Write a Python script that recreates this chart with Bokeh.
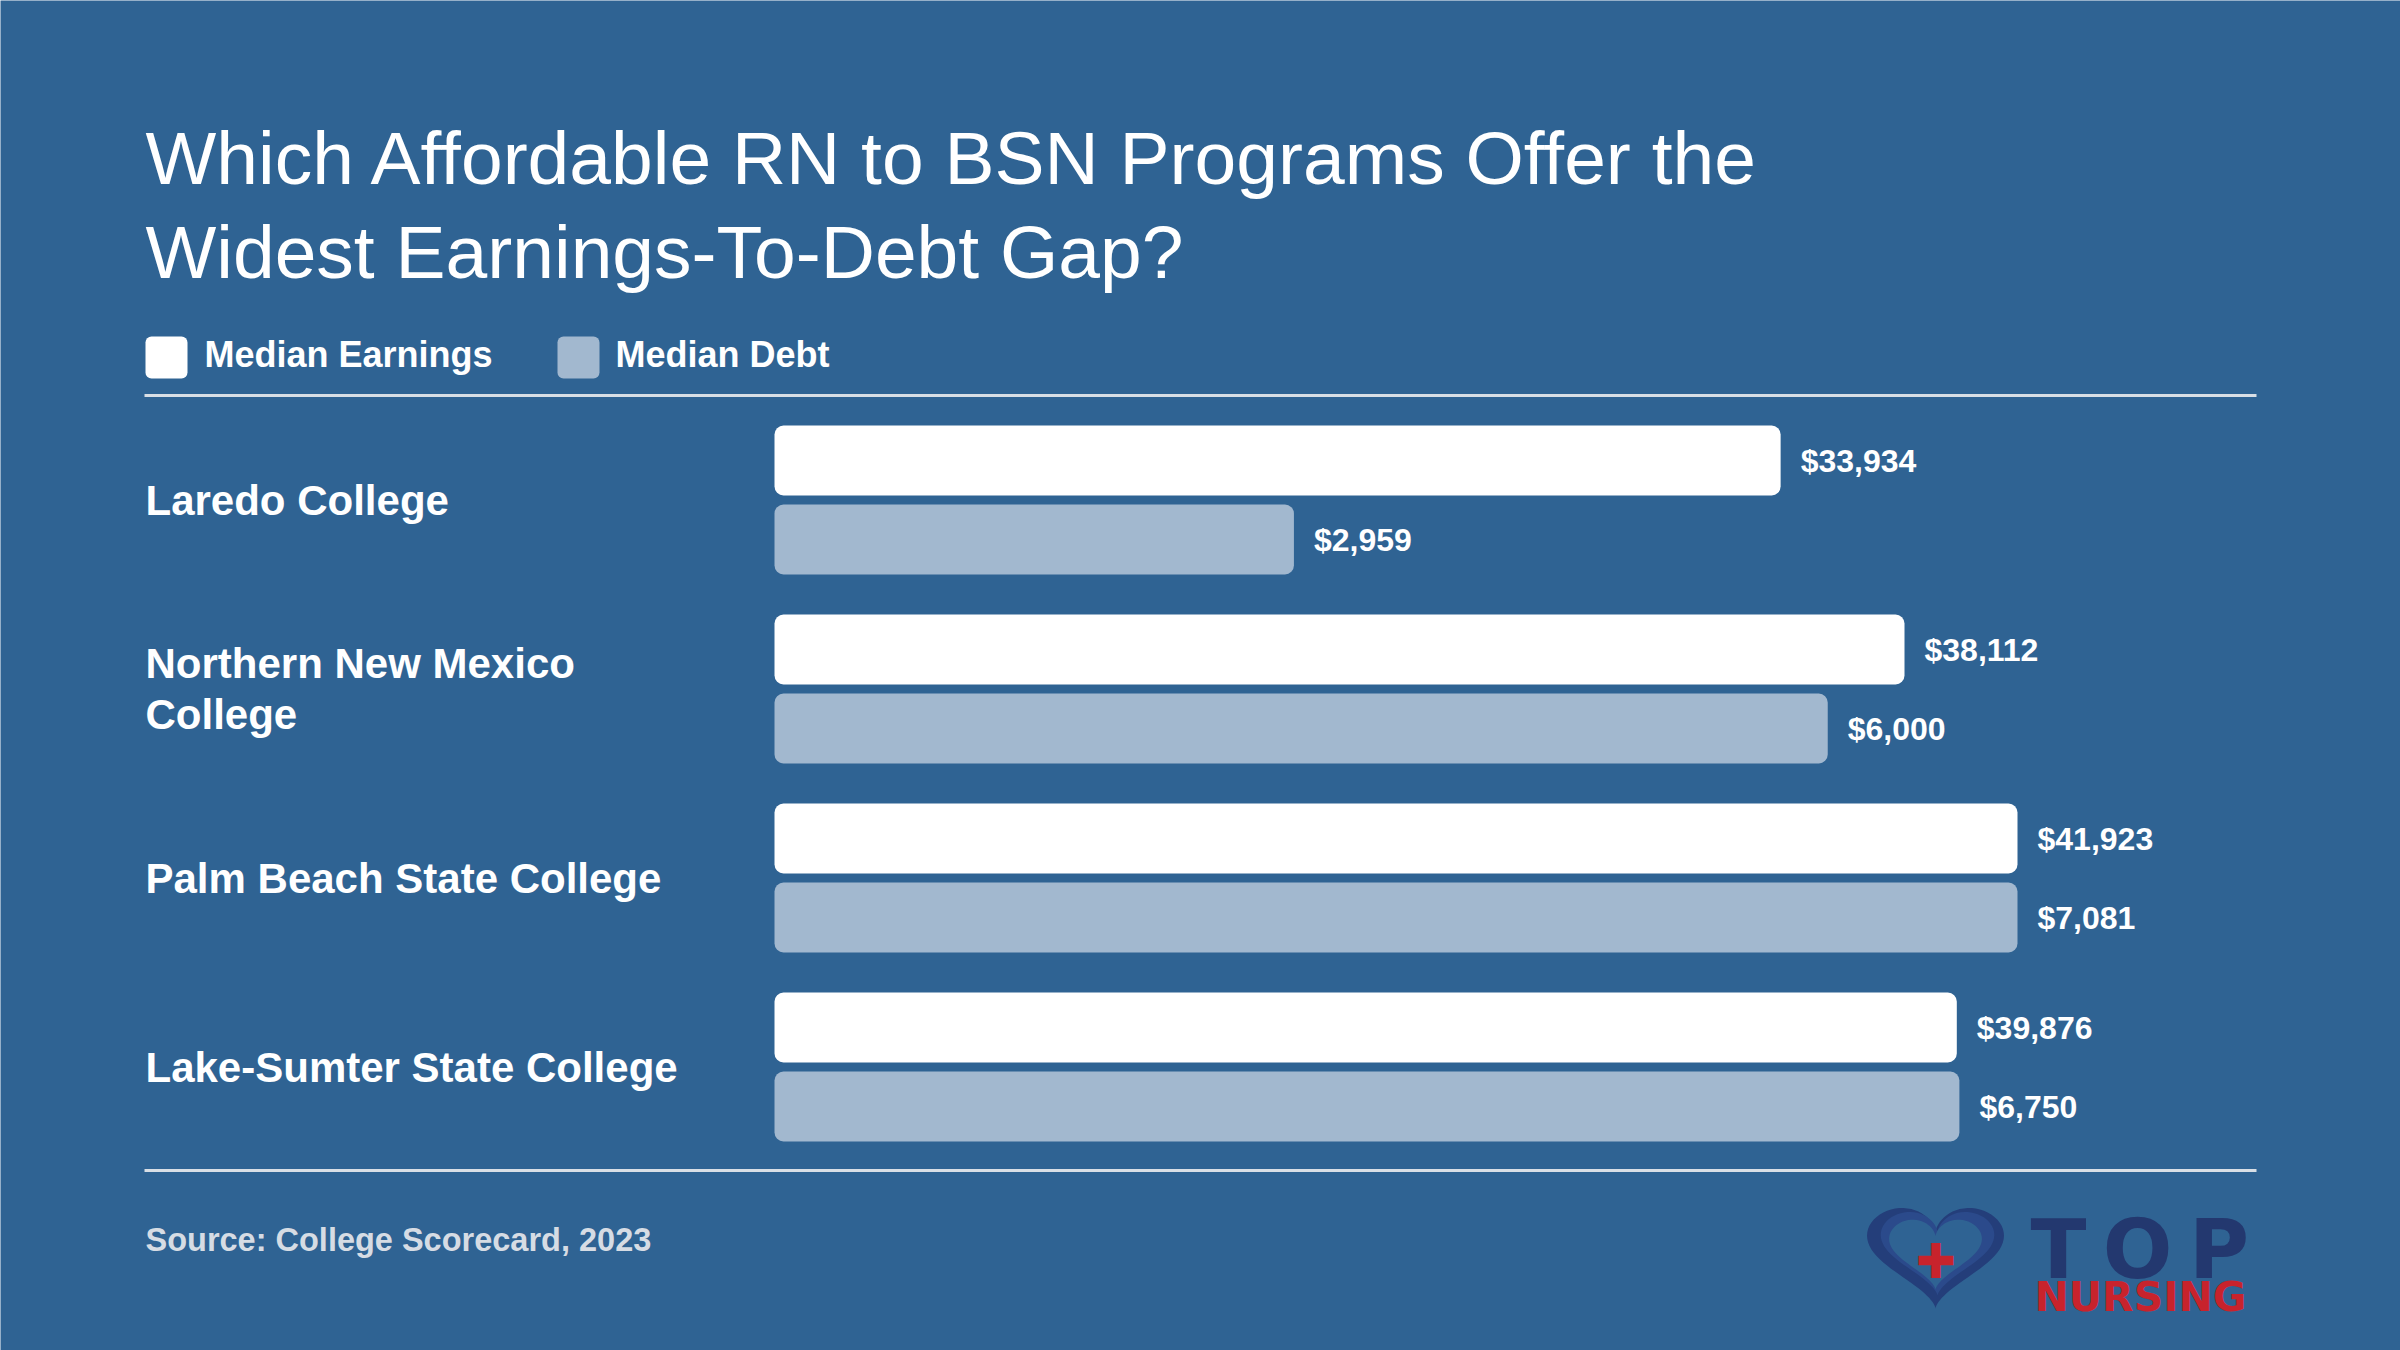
import math
import textwrap
from bokeh.plotting import figure
from bokeh.models import Range1d, ColumnDataSource
from bokeh.embed import file_html
from bokeh.resources import INLINE
from bokeh.core.properties import value

# ---------------- data ----------------
categories = ["Laredo College", "Northern New Mexico College",
              "Palm Beach State College", "Lake-Sumter State College"]
earnings = [33934, 38112, 41923, 39876]
debt = [2959, 6000, 7081, 6750]
series = ["Median Earnings", "Median Debt"]
title_lines = ["Which Affordable RN to BSN Programs Offer the",
               "Widest Earnings-To-Debt Gap?"]
source_note = "Source: College Scorecard, 2023"

# ---------------- style / layout ----------------
W, H = 2400, 1350
BG = "#2F6393"
EARN_C = "#FFFFFF"
DEBT_C = "#A2B8CF"
RULE_C = "#D9DFE6"
SRC_C = "#D6DCE4"
FONT = value("Liberation Sans")

BAR_X0 = 774        # px where bars start
BAR_MAXW = 1243     # px length of the longest bar of each series
GROUP_PX = 189      # px per category
FIRST_CENTER = 499.5
BAR_H_PX = 70
BAR_OFF_PX = 39.5

p = figure(width=W, height=H, output_backend="svg", toolbar_location=None,
           x_range=Range1d(0, W), y_range=Range1d(H, 0),
           x_axis_location=None, y_axis_location=None, min_border=0)
p.grid.visible = False
p.outline_line_color = None
p.background_fill_color = BG
p.border_fill_color = BG

e_pp = max(earnings) / BAR_MAXW
d_pp = max(debt) / BAR_MAXW
p.extra_x_ranges = {
    "earn": Range1d(-BAR_X0 * e_pp, (W - BAR_X0) * e_pp),
    "debt": Range1d(-BAR_X0 * d_pp, (W - BAR_X0) * d_pp),
}
p.extra_y_ranges = {
    "cat": Range1d(start=(H - FIRST_CENTER) / GROUP_PX, end=-FIRST_CENTER / GROUP_PX)
}

idx = list(range(len(categories)))
off = BAR_OFF_PX / GROUP_PX
bh = BAR_H_PX / GROUP_PX
src = ColumnDataSource(dict(
    y=idx,
    y_e=[i - off for i in idx],
    y_d=[i + off for i in idx],
    earnings=earnings,
    debt=debt,
    earn_lbl=[f"${v:,}" for v in earnings],
    debt_lbl=[f"${v:,}" for v in debt],
    cat=[textwrap.fill(c, width=25) for c in categories],
))

p.hbar(y="y_e", left=0, right="earnings", height=bh, source=src,
       x_range_name="earn", y_range_name="cat",
       fill_color=EARN_C, line_color=None, border_radius=9)
p.hbar(y="y_d", left=0, right="debt", height=bh, source=src,
       x_range_name="debt", y_range_name="cat",
       fill_color=DEBT_C, line_color=None, border_radius=9)

lbl_kw = dict(source=src, y_range_name="cat", x_offset=20, text_align="left",
              text_baseline="middle", text_font=FONT, text_font_style="bold",
              text_font_size="32px", text_color="#FFFFFF")
p.text(x="earnings", y="y_e", text="earn_lbl", x_range_name="earn", **lbl_kw)
p.text(x="debt", y="y_d", text="debt_lbl", x_range_name="debt", **lbl_kw)

# category labels
p.text(x=145, y="y", text="cat", source=src, y_range_name="cat",
       text_align="left", text_baseline="middle", text_line_height=1.1,
       text_font=FONT, text_font_style="bold", text_font_size="42px",
       text_color="#FFFFFF")

# title
p.text(x=[145, 145], y=[157, 251], text=title_lines, text_align="left",
       text_baseline="middle", text_font=FONT, text_font_size="75px",
       text_color="#FFFFFF")

# legend
p.quad(left=[145, 557], right=[187, 599], top=[336, 336], bottom=[378, 378],
       fill_color=[EARN_C, DEBT_C], line_color=None, border_radius=6)
p.text(x=[204, 615], y=[354, 354], text=series, text_align="left",
       text_baseline="middle", text_font=FONT, text_font_style="bold",
       text_font_size="36px", text_color="#FFFFFF")

# rules
p.segment(x0=[144, 144], x1=[2256, 2256], y0=[395, 1170], y1=[395, 1170],
          line_color=RULE_C, line_width=3)

# source
p.text(x=[145], y=[1239], text=[source_note], text_align="left",
       text_baseline="middle", text_font=FONT, text_font_style="bold",
       text_font_size="32.5px", text_color=SRC_C)

# ---------------- logo (decoration) ----------------
def heart_outline(cx, cy, sx, sy, n=120):
    xs, ys = [], []
    for k in range(n):
        t = 2 * math.pi * k / n
        X = 16 * math.sin(t) ** 3
        Y = 13 * math.cos(t) - 5 * math.cos(2 * t) - 2 * math.cos(3 * t) - math.cos(4 * t)
        xs.append(cx + sx * X)
        ys.append(cy - sy * Y)
    return xs, ys

hx, hy = heart_outline(1935, 1249, 4.28, 3.48)
p.patch(hx, hy, fill_color="#243E7A", line_color=None)
hx, hy = heart_outline(1937, 1246, 3.55, 2.9)
p.patch(hx, hy, fill_color="#2B4A8B", line_color=None)
hx, hy = heart_outline(1935, 1248, 2.9, 2.42)
p.patch(hx, hy, fill_color=BG, line_color=None)

p.text(x=[1935], y=[1260], text=["\u271A"], text_align="center",
       text_baseline="middle", text_font=value("DejaVu Sans"),
       text_font_size="48px", text_color="#C8232C")
p.text(x=[2030], y=[1249], text=["T\u2009O\u2009P"], text_align="left",
       text_baseline="middle", text_font=value("DejaVu Sans"),
       text_font_style="bold", text_font_size="82px", text_color="#23386F")
p.text(x=[2034], y=[1296], text=["NURSING"], text_align="left",
       text_baseline="middle", text_font=value("DejaVu Sans"),
       text_font_style="bold", text_font_size="41px", text_color="#C8232C")

open("out.html", "w").write(file_html(p, INLINE))
